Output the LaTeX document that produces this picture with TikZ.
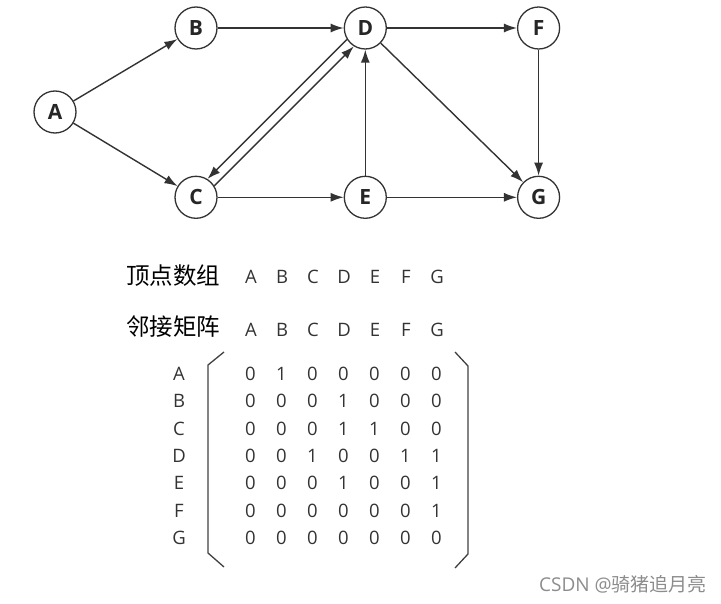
\documentclass[tikz,border=0pt]{standalone}
\usepackage{fontspec}
\setmainfont{Open Sans}
\newfontfamily\cjk{Noto Sans CJK SC}
\usetikzlibrary{arrows.meta,positioning}

\begin{document}
\begin{tikzpicture}[
  x=1pt,y=-1pt,
  node distance=126pt,
  vertex/.style={draw=black!80,fill=white,circle,line width=1.3pt,text=black!85,
    minimum size=42pt,inner sep=0pt,font=\bfseries\fontsize{21}{21}\selectfont},
  arrow/.style={-{Latex[length=13pt,width=9pt]},draw=black!80,line width=1.4pt},
  letter/.style={font=\fontsize{18.5}{18.5}\selectfont,text=black!80,inner sep=0pt},
  heading/.style={font=\cjk\fontsize{23.5}{23.5}\selectfont,inner sep=0pt},
  bracket/.style={draw=black!75,line width=1.3pt}
]
  \useasboundingbox (0,0) rectangle (721,604);
  % graph
  \node[vertex] (A) at (55,112) {A};
  \node[vertex] (B) at (196,28) {B};
  \node[vertex,right=of B] (D) {D};
  \node[vertex,right=130pt of D] (F) {F};
  \node[vertex,below=of B] (C) {C};
  \node[vertex,right=of C] (E) {E};
  \node[vertex,right=130pt of E] (G) {G};
  \draw[arrow] (A) -- (B);
  \draw[arrow] (A) -- (C);
  \draw[arrow] (B) -- (D);
  \draw[arrow] (D) -- (F);
  \draw[arrow] (D.212) -- (C.58);
  \draw[arrow] (C.32) -- (D.238);
  \draw[arrow] (D) -- (G);
  \draw[arrow] (F) -- (G);
  \draw[arrow] (C) -- (E);
  \draw[arrow] (E) -- (D);
  \draw[arrow] (E) -- (G);
  % vertex array and adjacency matrix
  \node[heading,anchor=west] (arr) at (126,276) {顶点数组};
  \node[heading,anchor=west] (adj) at (126,327) {邻接矩阵};
  \foreach \l [count=\c] in {A,B,C,D,E,F,G}{
    \node[letter] (v-\l) at ({220+31*\c},277) {\l};
    \node[letter] (h-\l) at ({220+31*\c},330) {\l};
  }
  \foreach \r/\vals [count=\i] in {A/{0,1,0,0,0,0,0},B/{0,0,0,1,0,0,0},
      C/{0,0,0,1,1,0,0},D/{0,0,1,0,0,1,1},E/{0,0,0,1,0,0,1},
      F/{0,0,0,0,0,0,1},G/{0,0,0,0,0,0,0}}{
    \node[letter] (r-\r) at (179,{346.7+27.3*\i}) {\r};
    \foreach \v [count=\c] in \vals
      \node[letter] (m-\r-\c) at ({219.5+31*\c},{346.7+27.3*\i}) {\v};
  }
  \draw[bracket] (224,352) -- (208,365) -- (208,553) -- (224,567);
  \draw[bracket] (455,352) -- (468,366) -- (468,554) -- (455,568);
  \node[anchor=east,text=black!45,inner sep=0pt,font=\fontsize{19}{19}\selectfont]
    (mark) at (707,584) {CSDN @{\cjk 骑猪追月亮}};
\end{tikzpicture}
\end{document}
